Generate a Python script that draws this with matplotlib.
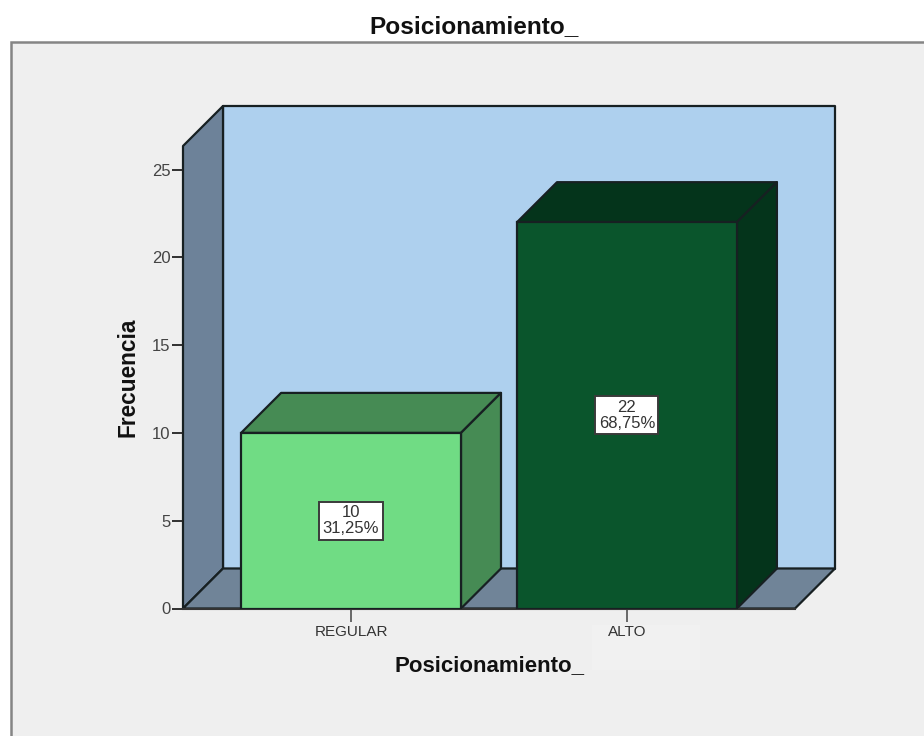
#!/usr/bin/env python3
"""
Plot 3D-style frequency bars for Posicionamiento_.
Generates out.png
"""
import matplotlib
matplotlib.use("Agg")
import matplotlib.pyplot as plt
from matplotlib.patches import Polygon, Rectangle

categories = ["REGULAR", "ALTO"]
frequencies = [10, 22]
percent_labels = ["31,25%", "68,75%"]
y_ticks = [0, 5, 10, 15, 20, 25]

FIG_W, FIG_H = 924, 736
EDGE = "#172022"
front_colors = ["#70dc84", "#0a552c"]
shade_colors = ["#468b54", "#04341b"]

plt.rcParams["font.family"] = ["Liberation Sans", "DejaVu Sans"]


def plot_chart(out_path):
    fig = plt.figure(figsize=(FIG_W / 100, FIG_H / 100), dpi=100, facecolor="white")

    # grey panel behind the chart, runs off the right and bottom edges
    fig.add_artist(Rectangle((11 / FIG_W, -0.02), 1.02, 0.02 + (736 - 42) / FIG_H,
                             transform=fig.transFigure, facecolor="#efefef",
                             edgecolor="#858585", linewidth=1.8, zorder=-2))
    fig.add_artist(Rectangle((592 / FIG_W, (736 - 670) / FIG_H), 108 / FIG_W, 45 / FIG_H,
                             transform=fig.transFigure, facecolor="#f1f1f1",
                             edgecolor="none", zorder=-1))

    # front plane of the chart box in pixels
    left, right, base, top = 183, 795, 608.5, 146
    ax = fig.add_axes([left / FIG_W, (FIG_H - base) / FIG_H,
                       (right - left) / FIG_W, (base - top) / FIG_H])
    ax.patch.set_visible(False)
    x_min, x_max = -0.609, 1.609
    y_max = (base - top) / 17.56
    ax.set_xlim(x_min, x_max)
    ax.set_ylim(0, y_max)

    # depth offset of the box, 40 px both ways
    dx = 40 * (x_max - x_min) / (right - left)
    dy = 40 * y_max / (base - top)

    def poly(points, color, z):
        ax.add_patch(Polygon(points, closed=True, facecolor=color, edgecolor=EDGE,
                             linewidth=1.6, joinstyle="round", clip_on=False, zorder=z))

    # back wall, side wall, floor
    poly([(x_min + dx, dy), (x_max + dx, dy), (x_max + dx, y_max + dy), (x_min + dx, y_max + dy)],
         "#aed0ee", 1)
    poly([(x_min, 0), (x_min + dx, dy), (x_min + dx, y_max + dy), (x_min, y_max)], "#6d8299", 1.1)
    poly([(x_min, 0), (x_max, 0), (x_max + dx, dy), (x_min + dx, dy)], "#708498", 1.2)

    x_pos = list(range(len(categories)))
    bars = ax.bar(x_pos, frequencies, width=0.797, color=front_colors, edgecolor=EDGE,
                  linewidth=1.6, zorder=3)

    for bar, shade, freq, pct in zip(bars, shade_colors, frequencies, percent_labels):
        x0, x1 = bar.get_x(), bar.get_x() + bar.get_width()
        h = bar.get_height()
        poly([(x0, h), (x1, h), (x1 + dx, h + dy), (x0 + dx, h + dy)], shade, 2.5)
        poly([(x1, 0), (x1 + dx, dy), (x1 + dx, h + dy), (x1, h)], shade, 2.5)

        ax.text((x0 + x1) / 2, h / 2, f"{freq}\n{pct}", ha="center", va="center",
                fontsize=12, color="#333333", linespacing=1.12, zorder=5,
                bbox=dict(boxstyle="square,pad=0.2", facecolor="white",
                          edgecolor="#3a3a3a", linewidth=1.4))

    ax.set_xticks(x_pos)
    ax.set_xticklabels(categories, fontsize=11, color="#333333")
    ax.set_yticks(y_ticks)
    ax.tick_params(axis="y", labelsize=12, labelcolor="#444444", length=8, width=1.3,
                   color="#222222", pad=1)
    ax.tick_params(axis="x", length=9, width=1.1, color="#444444", pad=3)
    ax.spines["top"].set_visible(False)
    ax.spines["right"].set_visible(False)
    ax.spines["left"].set_visible(False)
    ax.spines["bottom"].set_color("#333333")
    ax.spines["bottom"].set_linewidth(1.5)

    fig.text(474 / FIG_W, (FIG_H - 27) / FIG_H, "Posicionamiento_", ha="center", va="center",
             fontsize=17.6, fontweight="bold", color="#111111")
    fig.text(489 / FIG_W, (FIG_H - 666) / FIG_H, "Posicionamiento_", ha="center", va="center",
             fontsize=16, fontweight="bold", color="#111111")
    fig.text(128 / FIG_W, (FIG_H - 377) / FIG_H, "Frecuencia", ha="center", va="center",
             rotation=90, fontsize=16.3, fontweight="bold", color="#111111")

    fig.savefig(out_path, dpi=100)
    plt.close(fig)


if __name__ == "__main__":
    plot_chart("out.png")
